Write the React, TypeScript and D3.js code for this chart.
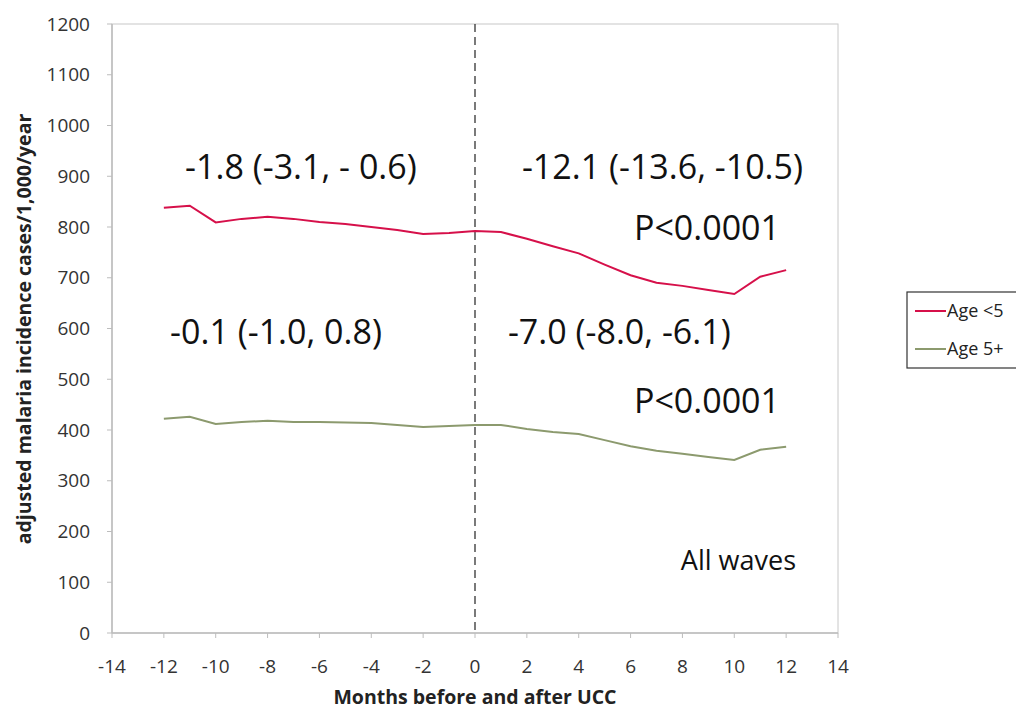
import React from "react";
import * as d3 from "d3";

// months relative to UCC
const months = [-12, -11, -10, -9, -8, -7, -6, -5, -4, -3, -2, -1, 0, 1, 2, 3, 4, 5, 6, 7, 8, 9, 10, 11, 12];
const under5 = [838, 842, 809, 816, 820, 816, 810, 806, 800, 794, 786, 788, 792, 790, 777, 762, 748, 726, 705, 690, 684, 676, 668, 702, 715];
const over5 = [422, 426, 412, 416, 418, 416, 416, 415, 414, 410, 406, 408, 410, 410, 402, 396, 392, 380, 368, 359, 353, 347, 341, 361, 367];

const xTicks = d3.range(-14, 15, 2);
const yTicks = d3.range(0, 1201, 100);

const seriesNames = ["Age <5", "Age 5+"];
const seriesColors = ["#d6104a", "#8c9a6e"];

const annotations = [
  { text: "-1.8 (-3.1, - 0.6)", x: -11.18, y: 895, size: 34 },
  { text: "-12.1 (-13.6, -10.5)", x: 1.81, y: 895, size: 34 },
  { text: "P<0.0001", x: 6.13, y: 774, size: 34 },
  { text: "-0.1 (-1.0, 0.8)", x: -11.76, y: 570, size: 34 },
  { text: "-7.0 (-8.0, -6.1)", x: 1.27, y: 570, size: 34 },
  { text: "P<0.0001", x: 6.13, y: 434, size: 34 },
  { text: "All waves", x: 7.94, y: 124, size: 27 },
];

const FONT = "'Open Sans', 'Liberation Sans', sans-serif";

export default function App() {
  const width = 1016;
  const height = 709;
  const left = 112, right = 838, top = 24, bottom = 633;

  const x = d3.scaleLinear().domain([-14, 14]).range([left, right]);
  const y = d3.scaleLinear().domain([0, 1200]).range([bottom, top]);

  const line = d3
    .line<[number, number]>()
    .x((d) => x(d[0]))
    .y((d) => y(d[1]));

  const series = [under5, over5].map((vals) => months.map((m, i) => [m, vals[i]] as [number, number]));

  return (
    <svg
      width={width}
      height={height}
      style={{ position: "absolute", left: 0, top: 0, background: "#fff" }}
      fontFamily={FONT}
    >
      {/* plot frame */}
      <rect x={left} y={top} width={right - left} height={bottom - top} fill="none" stroke="#c8c8c8" strokeWidth={1} />
      <line x1={left} x2={right} y1={bottom} y2={bottom} stroke="#bdbdbd" strokeWidth={1.5} />
      <line x1={left} x2={left} y1={top} y2={bottom} stroke="#bdbdbd" strokeWidth={1.5} />

      {/* y axis */}
      {yTicks.map((t) => (
        <g key={`y${t}`}>
          <line x1={left - 5} x2={left} y1={y(t)} y2={y(t)} stroke="#bdbdbd" />
          <text x={left - 22} y={y(t)} dy="0.35em" textAnchor="end" fontSize={19} fill="#333">
            {t}
          </text>
        </g>
      ))}
      {/* x axis */}
      {xTicks.map((t) => (
        <g key={`x${t}`}>
          <line x1={x(t)} x2={x(t)} y1={bottom} y2={bottom + 5} stroke="#bdbdbd" />
          <text x={x(t)} y={bottom + 40} textAnchor="middle" fontSize={19} fill="#333">
            {t}
          </text>
        </g>
      ))}

      <text
        transform={`translate(31,329) rotate(-90)`}
        textAnchor="middle"
        fontSize={19.5}
        fontWeight="bold"
        fill="#222"
      >
        adjusted malaria incidence cases/1,000/year
      </text>
      <text x={x(0)} y={704} textAnchor="middle" fontSize={19.5} fontWeight="bold" fill="#222">
        Months before and after UCC
      </text>

      {/* UCC marker */}
      <line x1={x(0)} x2={x(0)} y1={top} y2={bottom} stroke="#333" strokeWidth={1.3} strokeDasharray="8,5" />

      {series.map((s, i) => (
        <path key={seriesNames[i]} d={line(s) || ""} fill="none" stroke={seriesColors[i]} strokeWidth={2} />
      ))}

      {annotations.map((a, i) => (
        <text key={i} x={x(a.x)} y={y(a.y)} fontSize={a.size} fill="#111">
          {a.text}
        </text>
      ))}

      {/* legend */}
      <g>
        <rect x={907} y={292} width={120} height={76} fill="#fff" stroke="#333" strokeWidth={1.2} />
        {seriesNames.map((n, i) => (
          <g key={n} transform={`translate(915,${311 + i * 38})`}>
            <line x1={0} x2={31} y1={0} y2={0} stroke={seriesColors[i]} strokeWidth={2} />
            <text x={32} y={0} dy="0.35em" fontSize={18} fill="#222">
              {n}
            </text>
          </g>
        ))}
      </g>
    </svg>
  );
}
